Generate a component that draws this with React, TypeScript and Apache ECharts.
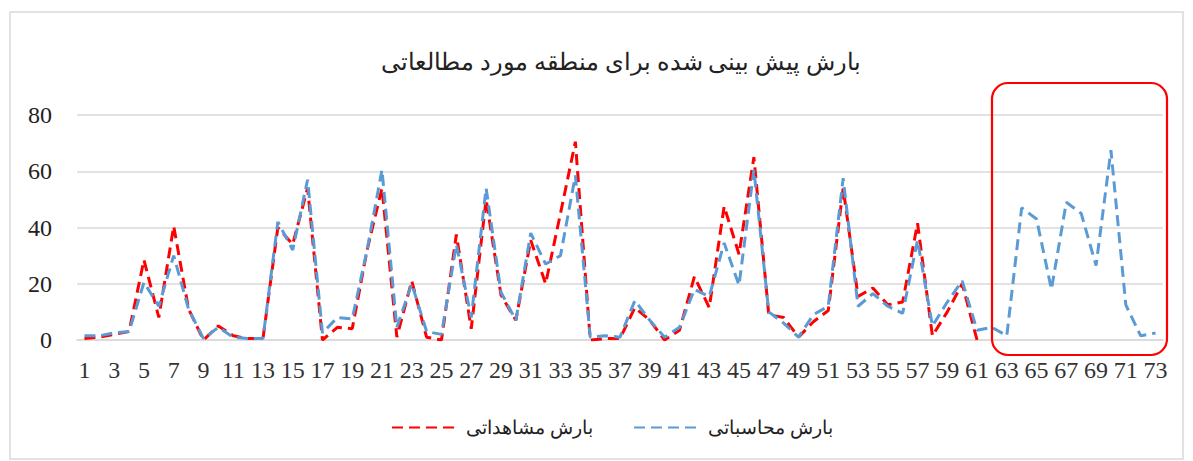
import React, { useEffect, useRef } from "react";
import * as echarts from "echarts";

const titleText = "بارش پیش بینی شده برای منطقه مورد مطالعاتی";
const observedName = "بارش مشاهداتی";
const computedName = "بارش محاسباتی";

const categories: string[] = Array.from({ length: 73 }, (_, i) => String(i + 1));

const observed: (number | null)[] = [
  0.5, 1, 2, 3, 28.5, 8, 40.5, 11, 0, 5,
  1.5, 0.5, 0.5, 40, 34, 54, 0, 4.5, 4, 32,
  54, 1, 21, 1, 0, 37.5, 4, 50, 16, 7,
  35.5, 20, 45, 70.5, 0, 0.5, 0.5, 11.5, 7, 0,
  3.5, 22.5, 11.5, 47.5, 30.5, 65, 9, 8, 1, 6.5,
  10.5, 54, 15.5, 18.5, 12.5, 13.5, 41.5, 1.5, 10, 20,
  0, null, null, null, null, null, null, null, null, null,
  null, null, null,
];

const computed: number[] = [
  1.5, 1.5, 2.5, 3, 20.5, 12, 30, 11, 0.5, 4.5,
  1, 0.5, 0.5, 42, 32, 57, 2.5, 8, 7.5, 32,
  60.5, 4.5, 20, 3, 2, 34, 8, 54, 17, 7,
  38, 27, 30, 58.5, 1, 1.5, 1, 14, 7, 1,
  4.5, 18, 15.5, 34.5, 19.5, 60.5, 10, 6, 1, 9,
  12, 57.5, 12, 16.5, 12, 9.5, 35.5, 5, 13.5, 21,
  3.5, 4.5, 1.5, 47, 43, 18, 49, 45, 26.5, 67.5,
  12.5, 1.5, 2.5,
];

const yMin = 0;
const yMax = 80;
const yInterval = 20;

export default function App() {
  const ref = useRef<HTMLDivElement>(null);
  useEffect(() => {
    if (!ref.current) return;
    const chart = echarts.init(ref.current, undefined, { renderer: "svg" });
    const serif = "Liberation Serif";
    const persian = "Liberation Serif";
    const legendCommon = {
      top: 413,
      itemWidth: 64,
      itemHeight: 14,
      itemStyle: { opacity: 0 },
      textStyle: { fontFamily: persian, fontSize: 19, color: "#222", padding: [0, 0, 0, 5] },
    };
    chart.setOption({
      animation: false,
      backgroundColor: "#ffffff",
      title: {
        text: titleText,
        left: 376,
        top: 45,
        textStyle: { fontFamily: persian, fontSize: 23.5, fontWeight: "normal", color: "#222" },
      },
      legend: [
        { ...legendCommon, data: [observedName], left: 386 },
        { ...legendCommon, data: [computedName], left: 628 },
      ],
      grid: { left: 77, right: 30, top: 115, bottom: 121, containLabel: false },
      xAxis: {
        type: "category",
        data: categories,
        boundaryGap: true,
        axisLine: { show: true, lineStyle: { color: "#d9d9d9", width: 1.5 } },
        axisTick: { show: false },
        axisLabel: {
          interval: 1,
          margin: 18,
          fontFamily: serif,
          fontSize: 24,
          color: "#333",
        },
      },
      yAxis: {
        type: "value",
        min: yMin,
        max: yMax,
        interval: yInterval,
        axisLine: { show: false },
        axisTick: { show: false },
        splitLine: { lineStyle: { color: "#d9d9d9", width: 1.5 } },
        axisLabel: { margin: 25, fontFamily: serif, fontSize: 24, color: "#222" },
      },
      series: [
        {
          name: observedName,
          type: "line",
          data: observed,
          symbol: "none",
          connectNulls: false,
          itemStyle: { color: "#ff0000" },
          lineStyle: { color: "#ff0000", width: 3, type: [11, 6] },
        },
        {
          name: computedName,
          type: "line",
          data: computed,
          symbol: "none",
          itemStyle: { color: "#5b9bd5" },
          lineStyle: { color: "#5b9bd5", width: 3, type: [11, 6] },
        },
      ],
      graphic: [
        {
          type: "rect",
          shape: { x: 10, y: 12, width: 1173, height: 447 },
          style: { fill: "none", stroke: "#d9d9d9", lineWidth: 1.5 },
          silent: true,
        },
        {
          type: "rect",
          shape: { x: 992, y: 83, width: 175, height: 272, r: 16 },
          style: { fill: "none", stroke: "#ff0000", lineWidth: 2.2 },
          silent: true,
          z: 100,
        },
      ],
    });
    return () => chart.dispose();
  }, []);
  return (
    <div
      ref={ref}
      style={{ position: "fixed", left: 0, top: 0, width: 1193, height: 461 }}
    />
  );
}
